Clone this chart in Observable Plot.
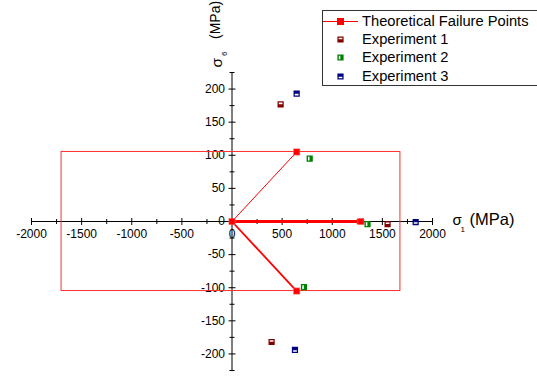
<!DOCTYPE html>
<html><head><meta charset="utf-8">
<script src="https://cdn.jsdelivr.net/npm/d3@7"></script>
<script src="https://cdn.jsdelivr.net/npm/@observablehq/plot@0.6"></script>
<style>
html,body{margin:0;padding:0;background:#fff;overflow:hidden;}
#wrap{position:relative;width:537px;height:379px;font-family:"Liberation Sans",Arial,sans-serif;}
#legend{position:absolute;left:322px;top:10px;width:240px;height:76px;border:1px solid #333;background:#fff;box-sizing:border-box;}
#legend .row{position:absolute;left:0;height:18px;display:flex;align-items:center;}
#legend svg{display:block}
#legend span{font-size:14.7px;color:#000;margin-left:4px;white-space:nowrap;}
</style></head>
<body><div id="wrap"><div id="legend"></div></div>
<script>
// ---- data ----
const xMajor = [-2000, -1500, -1000, -500, 0, 500, 1000, 1500, 2000];
const xMinor = [-1750, -1250, -750, -250, 250, 750, 1250, 1750];
const yMajor = [-200, -150, -100, -50, 0, 50, 100, 150, 200];
const yMinor = [-225, -175, -125, -75, -25, 25, 75, 125, 175, 225];
const xDomain = [-2000, 2000];
const yDomain = [-225, 225];

const boxX = [-1700, 1680];
const boxY = [-105, 105];

const theoX = [0, 645, 1285, 645];
const theoY = [0, 105, 0, -105];

const exp1X = [485, 1552, 395];
const exp1Y = [177, -4, -182];
const exp2X = [775, 1352, 718];
const exp2Y = [95, -4, -99];
const exp3X = [645, 1832, 628];
const exp3Y = [193, -1, -194];

const seriesNames = ["Theoretical Failure Points", "Experiment 1", "Experiment 2", "Experiment 3"];

// ---- build ----
const theory = theoX.map((x, i) => ({x, y: theoY[i]}));
const toPts = (xs, ys) => xs.map((x, i) => ({x, y: ys[i]}));
const exp1 = toPts(exp1X, exp1Y), exp2 = toPts(exp2X, exp2Y), exp3 = toPts(exp3X, exp3Y);

function holeSymbol(x0, y0, x1, y1) {
  return {draw(ctx, size) {
    const r = Math.sqrt(size / Math.PI);
    ctx.moveTo(-r, -r); ctx.lineTo(r, -r); ctx.lineTo(r, r); ctx.lineTo(-r, r); ctx.closePath();
    ctx.moveTo(x0 * r, y0 * r); ctx.lineTo(x0 * r, y1 * r); ctx.lineTo(x1 * r, y1 * r); ctx.lineTo(x1 * r, y0 * r); ctx.closePath();
  }};
}
const sym1 = holeSymbol(-0.6, -0.55, 0.6, -0.05);
const sym2 = holeSymbol(-0.55, -0.6, -0.05, 0.6);
const sym3 = holeSymbol(-0.6, 0.05, 0.6, 0.55);
const vtick = {draw(ctx, size) { const r = Math.sqrt(size / Math.PI); ctx.moveTo(0, -r); ctx.lineTo(0, r); }};
const htick = {draw(ctx, size) { const r = Math.sqrt(size / Math.PI); ctx.moveTo(-r, 0); ctx.lineTo(r, 0); }};

const FONT = "Liberation Sans, Arial, sans-serif";
const c1 = "#800000", c2 = "#008000", c3 = "#000080", cT = "#ff0000";

const chart = Plot.plot({
  width: 537, height: 379,
  marginLeft: 31, marginRight: 105, marginTop: 72, marginBottom: 9,
  style: {fontFamily: FONT, background: "transparent", overflow: "visible"},
  x: {domain: xDomain, axis: null},
  y: {domain: yDomain, axis: null},
  marks: [
    // axes
    Plot.ruleY([0], {x1: xDomain[0], x2: xDomain[1], stroke: "#000", strokeWidth: 1}),
    Plot.ruleX([0], {y1: yDomain[0], y2: yDomain[1], stroke: "#000", strokeWidth: 1}),
    Plot.dot(xMajor, {x: d => d, y: () => 0, symbol: vtick, r: 3.5, stroke: "#000", fill: "none", strokeWidth: 1}),
    Plot.dot(xMinor, {x: d => d, y: () => 0, symbol: vtick, r: 2.5, stroke: "#000", fill: "none", strokeWidth: 1}),
    Plot.dot(yMajor, {y: d => d, x: () => 0, symbol: htick, r: 3.5, stroke: "#000", fill: "none", strokeWidth: 1}),
    Plot.dot(yMinor, {y: d => d, x: () => 0, symbol: htick, r: 2.5, stroke: "#000", fill: "none", strokeWidth: 1}),
    Plot.text(xMajor, {x: d => d, y: () => 0, text: d => String(d), dy: 13, fontSize: 12, fill: "#000"}),
    Plot.text(yMajor, {y: d => d, x: () => 0, text: d => String(d), dx: -7, textAnchor: "end", fontSize: 12, fill: "#000"}),
    // axis titles
    Plot.text([0], {x: () => xDomain[1], y: () => 0, text: () => "σ", dx: 20, dy: -1.5, textAnchor: "start", fontSize: 15, fill: "#000"}),
    Plot.text([0], {x: () => xDomain[1], y: () => 0, text: () => "1", dx: 28, dy: 7.5, textAnchor: "start", fontSize: 8, fill: "#000"}),
    Plot.text([0], {x: () => xDomain[1], y: () => 0, text: () => "(MPa)", dx: 37, dy: -1.5, textAnchor: "start", fontSize: 16.5, fill: "#000"}),
    Plot.text([0], {x: () => 0, y: () => yDomain[1], text: () => "σ", dx: -15, dy: -5, rotate: -90, textAnchor: "start", fontSize: 15.5, fill: "#000"}),
    Plot.text([0], {x: () => 0, y: () => yDomain[1], text: () => "6", dx: -7.5, dy: -16.5, rotate: -90, textAnchor: "start", fontSize: 8, fill: "#000"}),
    Plot.text([0], {x: () => 0, y: () => yDomain[1], text: () => "(MPa)", dx: -16, dy: -33.5, rotate: -90, textAnchor: "start", fontSize: 14, fill: "#000"}),
    // failure envelope
    Plot.rect([0], {x1: () => boxX[0], x2: () => boxX[1], y1: () => boxY[0], y2: () => boxY[1], fill: "none", stroke: "#ff3030", strokeWidth: 1}),
    Plot.link([theory[1]], {x1: () => theory[0].x, y1: () => theory[0].y, x2: "x", y2: "y", stroke: cT, strokeWidth: 1}),
    Plot.link([theory[2]], {x1: () => theory[0].x, y1: () => theory[0].y, x2: "x", y2: "y", stroke: cT, strokeWidth: 3}),
    Plot.link([theory[3]], {x1: () => theory[0].x, y1: () => theory[0].y, x2: "x", y2: "y", stroke: cT, strokeWidth: 1.8}),
    Plot.dot(theory, {x: "x", y: "y", symbol: "square", r: 3.6, fill: cT, stroke: "#ff8080", strokeWidth: 0.5}),
    Plot.dot(exp1, {x: "x", y: "y", symbol: sym1, r: 3.1, fill: c1}),
    Plot.dot(exp2, {x: "x", y: "y", symbol: sym2, r: 3.1, fill: c2}),
    Plot.dot(exp3, {x: "x", y: "y", symbol: sym3, r: 3.1, fill: c3})
  ]
});
document.getElementById("wrap").prepend(chart);
chart.style.position = "absolute"; chart.style.left = "0"; chart.style.top = "0";
document.getElementById("legend").style.zIndex = 2;

// legend
const legend = d3.select("#legend");
const legendSyms = [null, sym1, sym2, sym3];
const legendCols = [cT, c1, c2, c3];
seriesNames.forEach((name, i) => {
  const row = legend.append("div").attr("class", "row").style("top", (i * 18.4 + 0.5) + "px");
  const svg = row.append("svg").attr("width", 35).attr("height", 18);
  if (i === 0) {
    svg.append("line").attr("x1", 0).attr("x2", 35).attr("y1", 9.5).attr("y2", 9.5).attr("stroke", cT).attr("stroke-width", 1);
    svg.append("rect").attr("x", 14).attr("y", 6).attr("width", 7).attr("height", 7).attr("fill", cT);
  } else {
    svg.append("path").attr("transform", "translate(17.5,9.5)")
      .attr("d", d3.symbol(legendSyms[i], 3.1 * 3.1 * Math.PI)()).attr("fill", legendCols[i]);
  }
  row.append("span").text(name);
});
</script></body></html>
